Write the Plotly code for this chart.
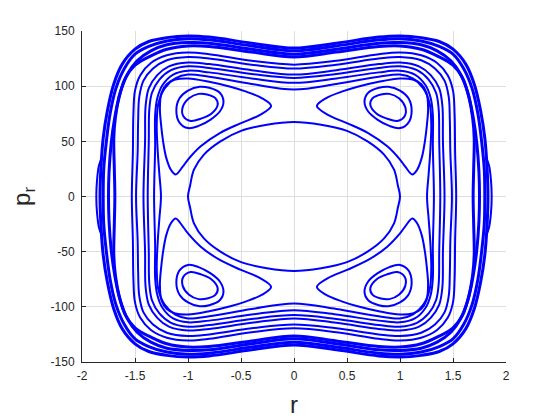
import plotly.graph_objects as go

# curve points, top-left quadrant (r <= 0, pr >= 0)
# open curves run from the pr axis (r = 0) down to the r axis (pr = 0)
band_1 = [(0, 134.5), (-0.4, 139), (-0.8, 144.5), (-1.0, 145.5), (-1.2, 144), (-1.37, 140.5),
          (-1.5, 133.5), (-1.62, 120), (-1.70, 102), (-1.76, 78), (-1.80, 53), (-1.822, 25), (-1.83, 0)]
band_2 = [(0, 132), (-0.4, 136.5), (-0.8, 142), (-1.0, 143), (-1.2, 141), (-1.37, 136),
          (-1.5, 129), (-1.6, 116), (-1.68, 98), (-1.735, 75), (-1.77, 50), (-1.795, 25), (-1.80, 0)]
band_3 = [(0, 129), (-0.4, 133.5), (-0.8, 139), (-1.0, 139.5), (-1.2, 137.5), (-1.35, 132),
          (-1.48, 123), (-1.57, 111), (-1.64, 94), (-1.69, 72), (-1.725, 48), (-1.745, 22), (-1.75, 0)]
band_4 = [(0, 126.5), (-0.4, 131), (-0.8, 136), (-1.0, 136.5), (-1.2, 133.5), (-1.35, 127.5),
          (-1.5, 119), (-1.59, 107.5), (-1.65, 90), (-1.685, 71.5), (-1.70, 53), (-1.695, 25), (-1.69, 0)]

thin_1 = [(0, 119.5), (-0.4, 123), (-0.8, 129), (-1.0, 130.5), (-1.2, 128), (-1.35, 121),
          (-1.45, 110), (-1.5, 96), (-1.515, 75), (-1.52, 40), (-1.53, 0)]
thin_2 = [(0, 116), (-0.4, 119.5), (-0.8, 125), (-1.0, 126.5), (-1.2, 123.5), (-1.33, 116),
          (-1.42, 105), (-1.46, 90), (-1.47, 70), (-1.475, 40), (-1.49, 0)]
thin_3 = [(0, 110.5), (-0.4, 114.5), (-0.8, 120), (-1.0, 121.5), (-1.18, 118), (-1.29, 110),
          (-1.37, 98), (-1.4, 82), (-1.405, 50), (-1.42, 0)]
thin_4 = [(0, 107.5), (-0.4, 111), (-0.8, 116.5), (-1.0, 118), (-1.16, 114.5), (-1.27, 106),
          (-1.34, 94), (-1.365, 79), (-1.37, 50), (-1.38, 0)]
thin_5 = [(0, 103), (-0.4, 107), (-0.8, 112.5), (-1.0, 114), (-1.14, 110.5), (-1.24, 101),
          (-1.29, 89), (-1.31, 74), (-1.31, 45), (-1.32, 0)]
thin_6 = [(0, 97), (-0.4, 102), (-0.8, 108.5), (-1.0, 110.5), (-1.12, 107), (-1.22, 98),
          (-1.28, 84), (-1.295, 65), (-1.285, 40), (-1.27, 20), (-1.255, 0)]

oval = [(0, 67.5), (-0.256, 65), (-0.5, 59.5), (-0.694, 50), (-0.85, 38), (-0.944, 24.3),
        (-0.98, 10), (-1.0, 0)]

# closed loops inside the quadrant
triangle = [(-0.216, 82), (-0.3, 89), (-0.45, 95), (-0.6, 99.5), (-0.8, 104), (-1.0, 107),
            (-1.12, 106), (-1.2, 102), (-1.25, 94), (-1.265, 80), (-1.255, 66), (-1.235, 50),
            (-1.205, 35), (-1.16, 24), (-1.116, 20), (-1.05, 27), (-1.0, 33.5), (-0.88, 45.5),
            (-0.7, 57.5), (-0.5, 66.5), (-0.32, 74), (-0.216, 82)]
island_outer = [(-1.0, 62), (-0.9, 64), (-0.79, 69.5), (-0.7, 77), (-0.665, 86), (-0.7, 94),
                (-0.8, 98.5), (-0.89, 99.5), (-1.0, 96), (-1.08, 89), (-1.11, 78), (-1.08, 67), (-1.0, 62)]
island_inner = [(-0.975, 68.5), (-0.88, 70.5), (-0.78, 75), (-0.72, 83), (-0.74, 89), (-0.82, 92.5),
                (-0.9, 93), (-0.99, 89), (-1.05, 81), (-1.045, 73), (-0.975, 68.5)]

# small lens at the outer edge, upper half
lens = [(-1.81, 36), (-1.84, 28), (-1.858, 15), (-1.865, 0)]

open_curves = [band_1, band_2, band_3, band_4, thin_1, thin_2, thin_3, thin_4, thin_5, thin_6, oval]
widths = [3, 3, 3, 3, 2, 2, 2, 2, 2, 2, 2]
loops = [triangle, island_outer, island_inner]

x_ticks = [-2, -1.5, -1, -0.5, 0, 0.5, 1, 1.5, 2]
x_labels = ["-2", "-1.5", "-1", "-0.5", "0", "0.5", "1", "1.5", "2"]
y_ticks = [-150, -100, -50, 0, 50, 100, 150]
y_labels = ["-150", "-100", "-50", "0", "50", "100", "150"]

BLUE = "#0000ff"


def mirror_ring(q):
    r = [p[0] for p in q]
    y = [p[1] for p in q]
    xs = r + r[::-1][1:] + [-v for v in r][1:] + [-v for v in r[::-1]][1:]
    ys = y + [-v for v in y[::-1]][1:] + [-v for v in y][1:] + y[::-1][1:]
    return xs, ys


fig = go.Figure()


def add_line(xs, ys, width=2):
    fig.add_trace(
        go.Scatter(
            x=xs, y=ys, mode="lines",
            line=dict(color=BLUE, width=width, shape="spline", smoothing=1),
            showlegend=False, hoverinfo="skip",
        )
    )


for curve, w in zip(open_curves, widths):
    xs, ys = mirror_ring(curve)
    add_line(xs, ys, w)

for loop in loops:
    for sx, sy in [(1, 1), (-1, 1), (1, -1), (-1, -1)]:
        add_line([sx * p[0] for p in loop], [sy * p[1] for p in loop])

for sx in [1, -1]:
    xs = [sx * p[0] for p in lens] + [sx * p[0] for p in lens[::-1]][1:]
    ys = [p[1] for p in lens] + [-p[1] for p in lens[::-1]][1:]
    add_line(xs, ys)

axis_font = dict(family="Liberation Sans, Arial, sans-serif", size=12, color="#262626")

# the html page has an 8px body margin, so the figure is a bit smaller than the window
fig.update_layout(
    width=552,
    height=412,
    margin=dict(l=74, r=54, t=23, b=58),
    plot_bgcolor="white",
    paper_bgcolor="white",
    font=axis_font,
    xaxis=dict(
        range=[-2, 2], tickvals=x_ticks, ticktext=x_labels, automargin=False,
        showgrid=True, gridcolor="#dedede", gridwidth=1, zeroline=False,
        showline=True, linecolor="#262626", linewidth=1,
        ticks="inside", ticklen=4, tickcolor="#262626", ticklabelstandoff=3,
        title=dict(text="r", font=dict(size=24, color="#262626"), standoff=13),
        tickfont=axis_font,
    ),
    yaxis=dict(
        range=[-150, 150], tickvals=y_ticks, ticktext=y_labels, automargin=False,
        showgrid=True, gridcolor="#dedede", gridwidth=1, zeroline=False,
        showline=True, linecolor="#262626", linewidth=1,
        ticks="inside", ticklen=4, tickcolor="#262626", ticklabelstandoff=4,
        title=dict(text="p<sub>r</sub>", font=dict(size=24, color="#262626"), standoff=17),
        tickfont=axis_font,
    ),
)

fig.write_html("out.html")
